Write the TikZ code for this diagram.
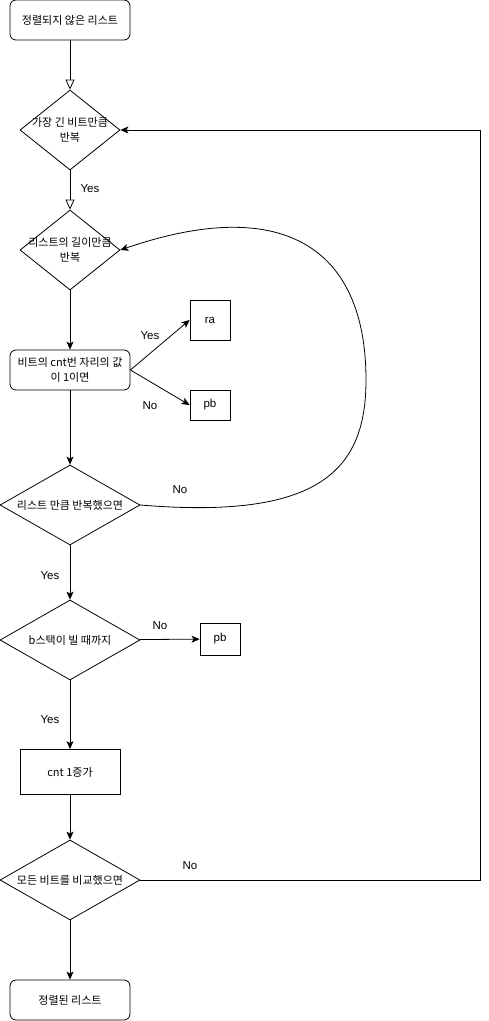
\documentclass[tikz,border=0pt]{standalone}
\usepackage{fontspec}
\setmainfont{Noto Sans CJK KR}
\newfontfamily\latfont{Liberation Sans}
\usetikzlibrary{shapes.geometric, arrows.meta}

\begin{document}
\begin{tikzpicture}[x=1pt, y=-1pt, line width=0.8pt,
    font=\fontsize{11}{15}\selectfont,
    term/.style={draw, rounded corners=6pt, minimum width=120pt, minimum height=40pt, align=center},
    proc/.style={draw, minimum width=100pt, minimum height=45pt},
    box/.style={draw, minimum width=40pt, minimum height=30pt, font=\latfont\fontsize{11.5}{13}\selectfont},
    dia/.style={draw, diamond, inner sep=0pt, minimum width=#1, minimum height=80pt},
    lbl/.style={font=\latfont\fontsize{11.5}{13}\selectfont},
    >={Stealth[length=8pt, width=7pt, inset=2pt]},
    open/.style={-{Triangle[open, fill=white, length=10pt, width=9pt]}}]
    \useasboundingbox (0,0) rectangle (489,1021);

    % Outer loop
    \node[term] (start) at (70,20) {정렬되지 않은 리스트};
    \node[dia=100pt, label={[align=center]center:가장 긴 비트만큼\\반복}] (bit) at (70,130) {};
    \node[dia=100pt, label={[align=center]center:리스트의 길이만큼\\반복}] (len) at (70,250) {};

    % Inner loop
    \node[term] (cond) at (70,370) {비트의 cnt번 자리의 값\\이 1이면};
    \node[box, minimum height=40pt] (ra) at (210,320) {ra};
    \node[box] (pb) at (210,405) {pb};
    \node[dia=140pt, label=center:리스트 만큼 반복했으면] (done) at (70,505) {};

    % Emptying b
    \node[dia=140pt, label=center:b스택이 빌 때까지] (empty) at (70,640) {};
    \node[box, minimum height=32pt] (pbb) at (220,639) {pb};
    \node[proc] (inc) at (70,772) {cnt 1증가};
    \node[dia=140pt, label=center:모든 비트를 비교했으면] (all) at (70,880) {};
    \node[term] (end) at (70,1000) {정렬된 리스트};
    \coordinate (c1) at (480,880);
    \coordinate (c2) at (480,130);

    % Labels
    \node[lbl] (yes1) at (90,189) {Yes};
    \node[lbl] (yes2) at (150,336) {Yes};
    \node[lbl] (no1) at (150,406) {No};
    \node[lbl] (no2) at (180,490) {No};
    \node[lbl] (yes3) at (50,576) {Yes};
    \node[lbl] (no3) at (160,626) {No};
    \node[lbl] (yes4) at (50,720) {Yes};
    \node[lbl] (no4) at (190,866) {No};

    % Connectors
    \draw[open] (start) -- (bit);
    \draw[open] (bit) -- (len);
    \draw[->] (len) -- (cond);
    \draw[->] (cond.east) -- (ra.west);
    \draw[->] (cond.east) -- (pb.west);
    \draw[->] (cond) -- (done);
    \draw[->] (done.east) .. controls (320,520) and (366,470) .. (366,380)
      .. controls (366,245) and (280,195) .. (len.east);
    \draw[->] (done) -- (empty);
    \draw[->] (empty) -- (pbb);
    \draw[->] (empty) -- (inc);
    \draw[->] (inc) -- (all);
    \draw[->] (all) -- (end);
    \draw[->] (all.east) -- (c1) -- (c2) -- (bit.east);
\end{tikzpicture}
\end{document}
